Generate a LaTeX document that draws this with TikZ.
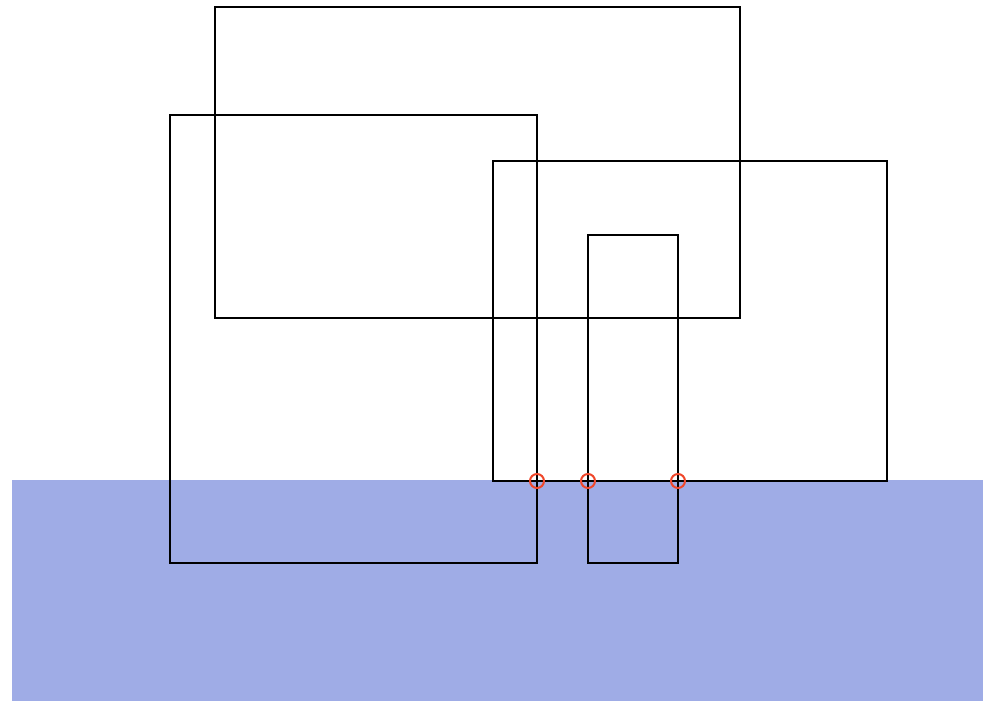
\documentclass[tikz,border=0pt]{standalone}
\usetikzlibrary{shapes.geometric}
\definecolor{seablue}{HTML}{9FACE6}
\definecolor{markred}{HTML}{F0472A}
\tikzset{
  box/.style={draw=black, line width=1.6pt, inner sep=0pt, outer sep=0pt},
  marker/.style={draw=markred, line width=2pt, circle, inner sep=0pt, minimum size=14pt, fill=none},
}
\begin{document}
\begin{tikzpicture}[x=1pt,y=-1pt]
\useasboundingbox (0,0) rectangle (983,701);
\fill[seablue] (12,480) rectangle (983,701);
\node[box, minimum width=525pt, minimum height=311pt] (r1) at (477.5,162.5) {};
\node[box, minimum width=367pt, minimum height=448pt] (r2) at (353.5,339) {};
\node[box, minimum width=394pt, minimum height=320pt] (r3) at (690,321) {};
\node[box, minimum width=90pt, minimum height=328pt] (r4) at (633,399) {};
\node[marker] (m1) at (537,481) {};
\node[marker] (m2) at (588,481) {};
\node[marker] (m3) at (678,481) {};
\end{tikzpicture}
\end{document}
